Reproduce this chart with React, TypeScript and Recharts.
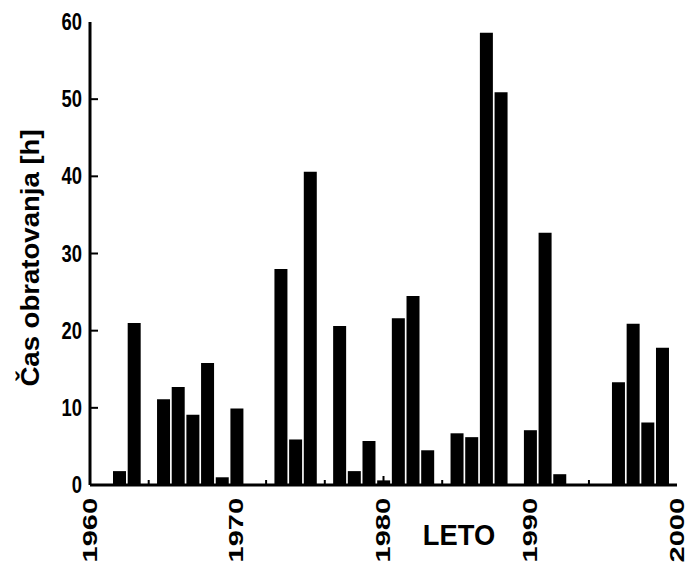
import { BarChart, Bar, XAxis, YAxis } from 'recharts';

const years = [
  1962, 1963, 1965, 1966, 1967, 1968, 1969, 1970, 1973, 1974, 1975, 1977, 1978, 1979, 1980,
  1981, 1982, 1983, 1985, 1986, 1987, 1988, 1990, 1991, 1992, 1996, 1997, 1998, 1999,
];
const hours = [
  1.8, 21.0, 11.1, 12.7, 9.1, 15.8, 1.0, 9.9, 28.0, 5.9, 40.6, 20.6, 1.8, 5.7, 0.6,
  21.6, 24.5, 4.5, 6.7, 6.2, 58.6, 50.9, 7.1, 32.7, 1.4, 13.3, 20.9, 8.1, 17.8,
];
const xTicks = [
  1960, 1962, 1964, 1966, 1968, 1970, 1972, 1974, 1976, 1978, 1980,
  1982, 1984, 1986, 1988, 1990, 1992, 1994, 1996, 1998, 2000,
];
const yTicks = [0, 10, 20, 30, 40, 50, 60];

const data = years.map((year, i) => ({ year, hours: hours[i] }));

const FONT = '"Liberation Sans", Arial, Helvetica, sans-serif';

const XTick = (props: any) => {
  const { x, y, payload } = props;
  const v = payload.value;
  const major = v % 10 === 0;
  return (
    <g>
      {v > 1960 && v < 2000 && (
        <line x1={x} x2={x} y1={y} y2={y - (major ? 9 : 5)} stroke="#000" strokeWidth={2} />
      )}
      {major && (
        <text
          transform={`translate(${x + 6.5},498) rotate(-90) scale(1.45,1)`}
          textAnchor="end"
          fontSize={20}
          fontWeight="bold"
          fontFamily={FONT}
          fill="#000"
        >
          {v}
        </text>
      )}
    </g>
  );
};

const YTick = (props: any) => {
  const { x, y, payload } = props;
  const v = payload.value;
  return (
    <g>
      {v > 0 && v < 60 && <line x1={x} x2={x + 8} y1={y} y2={y} stroke="#000" strokeWidth={2} />}
      <text
        transform={`translate(82,${y + 8}) scale(0.8,1)`}
        textAnchor="end"
        fontSize={23}
        fontWeight="bold"
        fontFamily={FONT}
        fill="#000"
      >
        {v}
      </text>
    </g>
  );
};

const XLabel = () => (
  <text
    transform="translate(459,545) scale(0.91,1)"
    textAnchor="middle"
    fontSize={30}
    fontWeight="bold"
    fontFamily={FONT}
    fill="#000"
  >
    LETO
  </text>
);

const YLabel = () => (
  <text
    transform="translate(39,258) rotate(-90) scale(1.06,1)"
    textAnchor="middle"
    fontSize={26}
    fontWeight="bold"
    fontFamily={FONT}
    fill="#000"
  >
    Čas obratovanja [h]
  </text>
);

export default function App() {
  return (
    <div>
      <style>{'body{margin:0}'}</style>
      <BarChart width={687} height={562} data={data} margin={{ top: 22, right: 10, left: 0, bottom: 0 }}>
        <XAxis
          dataKey="year"
          type="number"
          domain={[1960, 2000]}
          ticks={xTicks}
          interval={0}
          height={77}
          tickSize={0}
          tickMargin={0}
          tick={<XTick />}
          axisLine={{ stroke: '#000', strokeWidth: 3 }}
          label={<XLabel />}
        />
        <XAxis
          xAxisId="top"
          orientation="top"
          type="number"
          domain={[1960, 2000]}
          height={0}
          tick={false}
          tickLine={false}
          axisLine={{ stroke: '#000', strokeWidth: 3 }}
        />
        <YAxis
          type="number"
          domain={[0, 60]}
          ticks={yTicks}
          interval={0}
          width={90}
          tickSize={0}
          tickMargin={0}
          tick={<YTick />}
          axisLine={{ stroke: '#000', strokeWidth: 3 }}
          label={<YLabel />}
        />
        <YAxis
          yAxisId="right"
          orientation="right"
          type="number"
          domain={[0, 60]}
          width={0}
          tick={false}
          tickLine={false}
          axisLine={{ stroke: '#000', strokeWidth: 3 }}
        />
        <Bar dataKey="hours" fill="#000" barSize={13} isAnimationActive={false} />
      </BarChart>
    </div>
  );
}
